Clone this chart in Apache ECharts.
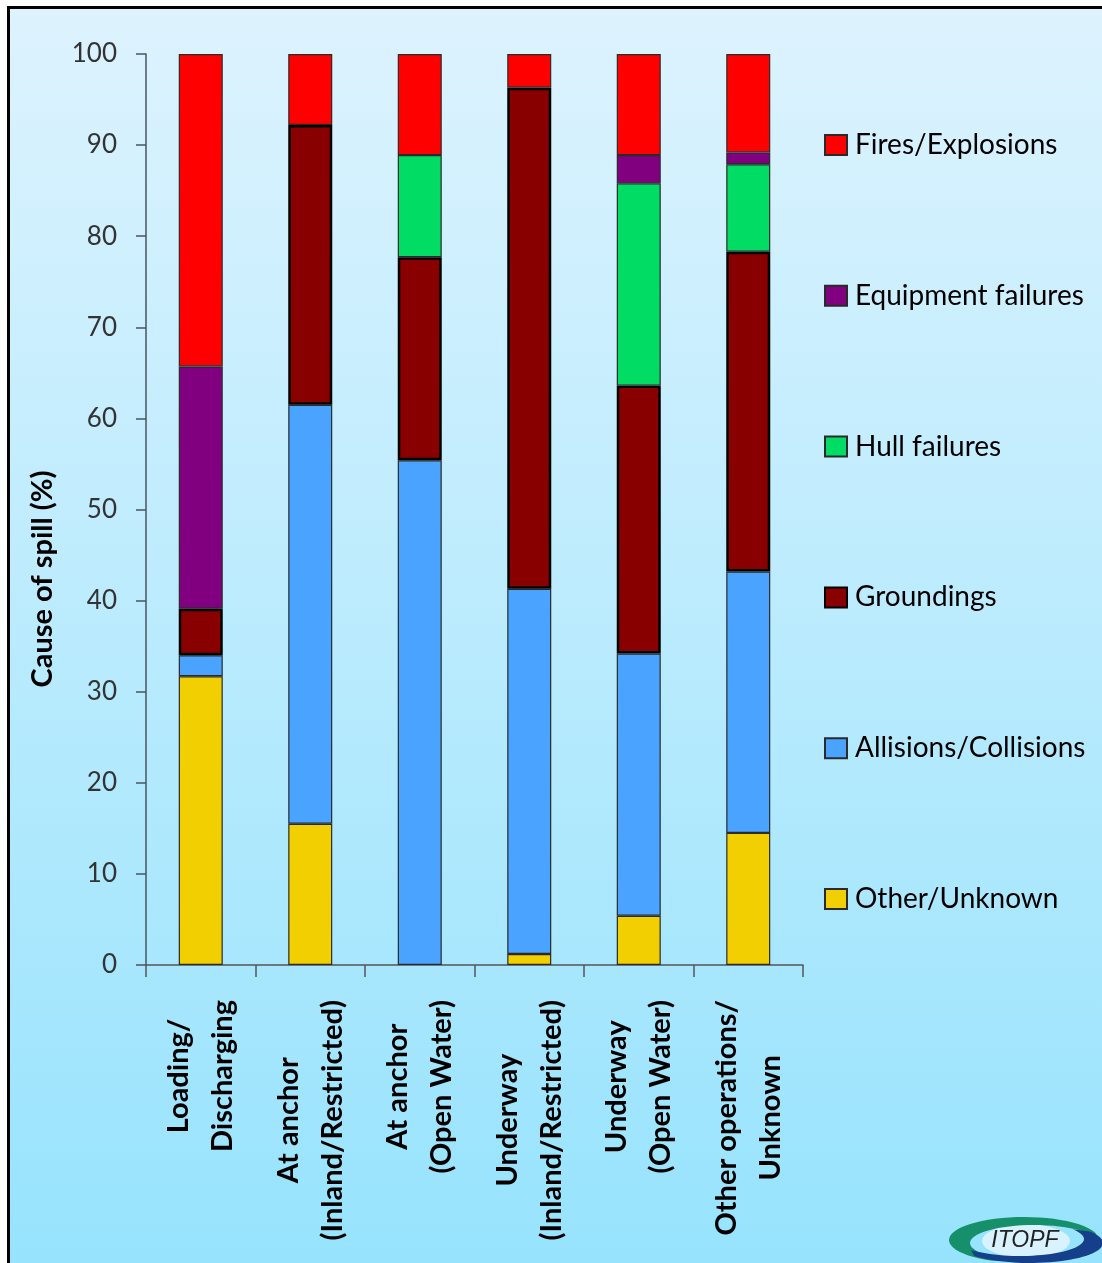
<!DOCTYPE html>
<html>
<head>
<meta charset="utf-8">
<script src="https://cdn.jsdelivr.net/npm/echarts@6/dist/echarts.min.js"></script>
<style>
html,body{margin:0;padding:0;background:#fff;}
#chart{width:1102px;height:1263px;}
</style>
</head>
<body>
<div id="chart"></div>
<script>
const categories = ['Loading/\nDischarging', 'At anchor\n(Inland/Restricted)', 'At anchor\n(Open Water)', 'Underway\n(Inland/Restricted)', 'Underway\n(Open Water)', 'Other operations/\nUnknown'];
const otherUnknown = [31.7, 15.5, 0, 1.2, 5.4, 14.5];
const allisions = [2.3, 46.0, 55.4, 40.1, 28.8, 28.7];
const groundings = [5.1, 30.7, 22.3, 55.0, 29.4, 35.1];
const hullFailures = [0, 0, 11.2, 0, 22.2, 9.6];
const equipmentFailures = [26.6, 0, 0, 0, 3.1, 1.3];
const fires = [34.3, 7.8, 11.1, 3.7, 11.1, 10.8];
const legendOrder = ['Fires/Explosions', 'Equipment failures', 'Hull failures', 'Groundings', 'Allisions/Collisions', 'Other/Unknown'];
const yAxisTitle = 'Cause of spill (%)';
const logoText = 'ITOPF';

const chart = echarts.init(document.getElementById('chart'));
const clean = arr => arr.map(v => v === 0 ? null : v);

function barSeries(name, data, color, bw, bc) {
  return {
    name: name, type: 'bar', stack: 'total', data: clean(data),
    barWidth: 44,
    itemStyle: { color: color, borderColor: bc || '#2a2a2a', borderWidth: bw || 1.2 },
    emphasis: { disabled: true }
  };
}

// decorative logo swoosh shapes
function crescent(o, i, t0, t1) {
  const pts = [];
  const n = 40;
  for (let k = 0; k <= n; k++) {
    const t = (t0 + (t1 - t0) * k / n) * Math.PI / 180;
    pts.push([o[0] + o[2] * Math.cos(t), o[1] + o[3] * Math.sin(t)]);
  }
  for (let k = n; k >= 0; k--) {
    const t = (t0 + (t1 - t0) * k / n) * Math.PI / 180;
    pts.push([i[0] + i[2] * Math.cos(t), i[1] + i[3] * Math.sin(t)]);
  }
  return pts;
}

const option = {
  animation: false,
  backgroundColor: 'transparent',
  graphic: [
    { type: 'rect', z: -10, shape: { x: 7, y: 6, width: 1095, height: 1257 },
      style: { fill: new echarts.graphic.LinearGradient(0, 0, 0, 1, [
        { offset: 0, color: '#ddf3fe' }, { offset: 1, color: '#97e3fd' }]) } },
    { type: 'rect', z: -9, shape: { x: 7, y: 6, width: 1095, height: 3 }, style: { fill: '#000' } },
    { type: 'rect', z: -9, shape: { x: 7, y: 6, width: 3, height: 1257 }, style: { fill: '#000' } },
    { type: 'text', x: 43, y: 579, rotation: Math.PI / 2,
      style: { text: yAxisTitle, fill: '#000', font: 'bold 29px Lato', align: 'center', verticalAlign: 'middle' } },
    { type: 'circle', shape: { cx: 0, cy: 0, r: 44 }, x: 1026, y: 1241, scaleY: 0.38, style: { fill: '#d8f2ff' } },
    { type: 'polygon', shape: { points: crescent([1024, 1240, 75, 23], [1034, 1243, 64, 18], 115, 345) }, style: { fill: '#16906a' } },
    { type: 'polygon', shape: { points: crescent([1030, 1243, 73, 20], [1020, 1239, 64, 17], -35, 140) }, style: { fill: '#153f8a' } },
    { type: 'text', x: 1025, y: 1241,
      style: { text: logoText, fill: '#222', font: 'italic 23px "Liberation Sans"', align: 'center', verticalAlign: 'middle' } }
  ],
  legend: {
    orient: 'vertical', left: 824, top: 130, itemGap: 120.8, padding: 0,
    itemWidth: 22, itemHeight: 20, icon: 'rect',
    data: legendOrder,
    textStyle: { fontFamily: 'Lato', fontSize: 28, color: '#000', lineHeight: 30, padding: [0, 0, 0, 3] },
    selectedMode: false
  },
  grid: { left: 146, top: 54, right: 299, bottom: 298 },
  xAxis: {
    type: 'category', data: categories,
    axisLine: { lineStyle: { color: '#555', width: 1.5 } },
    axisTick: { show: true, length: 12, interval: 0, lineStyle: { color: '#555', width: 1.5 } },
    axisLabel: { interval: 0, rotate: 90, margin: 35,
      formatter: v => v.split('\n').map(s => '{c|' + s + '}').join('\n'),
      rich: { c: { align: 'center', fontFamily: 'Lato', fontWeight: 'bold', fontSize: 29, lineHeight: 44, color: '#000' } } }
  },
  yAxis: {
    type: 'value', min: 0, max: 100, interval: 10,
    axisLine: { show: true, lineStyle: { color: '#4a5560', width: 1.5 } },
    axisTick: { show: true, length: 10, lineStyle: { color: '#4a5560', width: 1.5 } },
    splitLine: { show: false },
    axisLabel: { margin: 29, fontFamily: 'Lato', fontSize: 26, color: '#333' }
  },
  series: [
    barSeries('Other/Unknown', otherUnknown, '#f2cf00'),
    barSeries('Allisions/Collisions', allisions, '#4aa3ff'),
    barSeries('Groundings', groundings, '#880000', 2.5, '#000'),
    barSeries('Hull failures', hullFailures, '#00dc64'),
    barSeries('Equipment failures', equipmentFailures, '#800080'),
    barSeries('Fires/Explosions', fires, '#ff0000')
  ]
};
chart.setOption(option);
</script>
</body>
</html>
